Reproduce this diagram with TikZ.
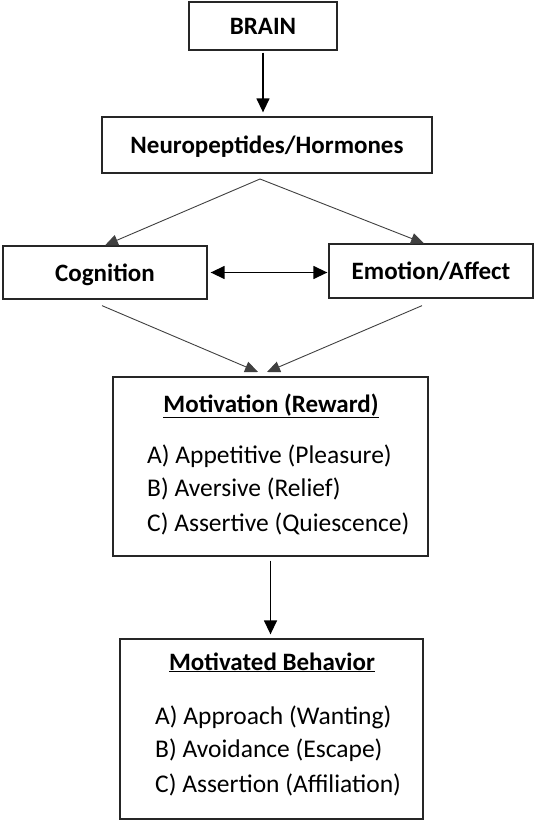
\documentclass[tikz,border=0pt]{standalone}
\usepackage{fontspec}
\setmainfont{Carlito}
\usetikzlibrary{calc, arrows.meta}

\tikzset{
  box/.style={draw=black!85, line width=1.3pt, inner sep=0pt},
  head/.style={font=\fontsize{25}{30}\selectfont\bfseries, inner sep=0pt, text depth=0pt},
  item/.style={font=\fontsize{25.5}{30}\selectfont, inner sep=0pt, anchor=base west},
  link/.style={draw=black!75, line width=0.9pt, -{Triangle[length=13pt,width=11pt]}},
  flow/.style={line width=1.4pt, -{Triangle[length=14pt,width=13pt]}},
}

\begin{document}
\begin{tikzpicture}[x=1pt,y=1pt,yscale=-1,xscale=1]
      \useasboundingbox (0,0) rectangle (536,821);
      % boxes
      \node [box, head, minimum width=148pt, minimum height=48pt] (brain) at (263,26) {BRAIN};
      \node [box, head, minimum width=330pt, minimum height=56pt] (neuro) at (267,145) {Neuropeptides/Hormones};
      \node [box, head, minimum width=204pt, minimum height=53pt] (cog) at (105,272.5) {Cognition};
      \node [box, head, minimum width=204pt, minimum height=54pt] (emo) at (431,271) {Emotion/Affect};
      \node [box, minimum width=315pt, minimum height=179pt] (mot) at (270.5,466.5) {};
      \node [box, minimum width=303pt, minimum height=180pt] (beh) at (271.5,729) {};
      % texts in the two lower boxes
      \node [head, anchor=base] (mtitle) at (271,412) {\underline{Motivation (Reward)}};
      \node [item] (m1) at (147,463) {A) Appetitive (Pleasure)};
      \node [item] (m2) at (147,496) {B) Aversive (Relief)};
      \node [item] (m3) at (147,531) {C) Assertive (Quiescence)};
      \node [head, anchor=base] (btitle) at (272,670) {\underline{Motivated Behavior}};
      \node [item] (b1) at (155,724) {A) Approach (Wanting)};
      \node [item] (b2) at (155,757) {B) Avoidance (Escape)};
      \node [item] (b3) at (155,792) {C) Assertion (Affiliation)};
      % free ends of the slanted lines
      \coordinate (split) at (260,179);
      \coordinate (mleft) at (258,372);
      \coordinate (mright) at (267,372);
      % connectors
      \draw [flow, shorten <=2pt, shorten >=4pt] (brain.south) -- (brain.south |- neuro.north);
      \draw [link] (split) -- (cog.north);
      \draw [link] (split) -- ($(emo.north)+(-7,0)$);
      \draw [flow, {Triangle[length=14pt,width=13pt]}-{Triangle[length=14pt,width=13pt]}, shorten <=3pt, shorten >=1pt] (cog.east) -- (cog.east -| emo.west);
      \draw [link] ($(cog.south)+(-3,6)$) -- (mleft);
      \draw [link] ($(emo.south)+(-9,7)$) -- (mright);
      \draw [flow, shorten <=4pt, shorten >=4pt] (mot.south) -- (mot.south |- beh.north);
\end{tikzpicture}
\end{document}
